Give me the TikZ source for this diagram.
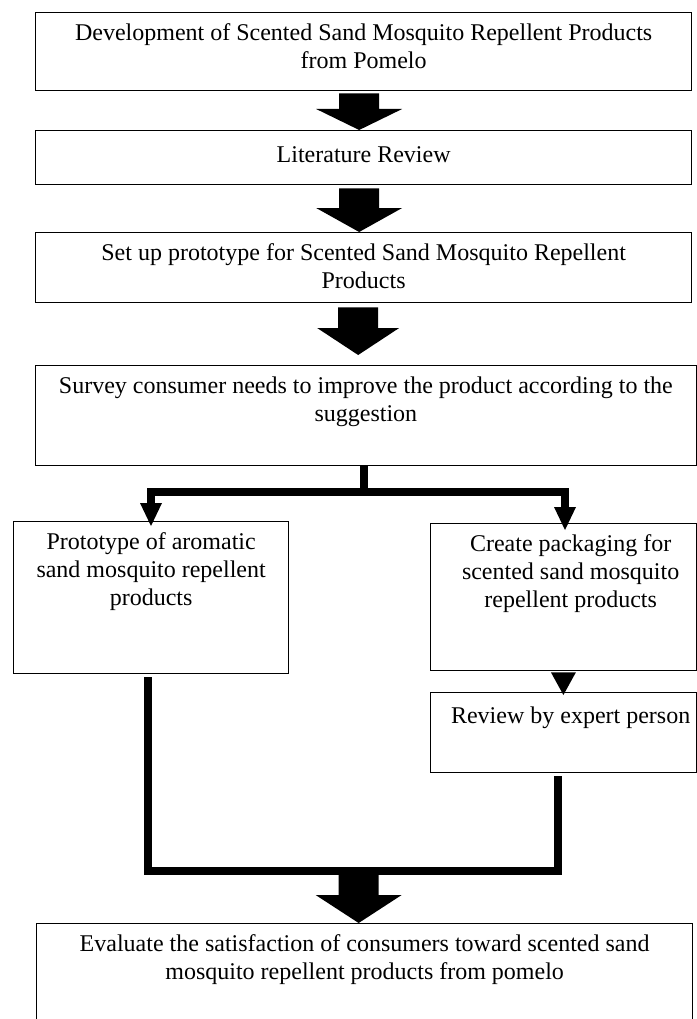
\documentclass[tikz,border=0pt]{standalone}
\usepackage{fontspec}
\setmainfont{Liberation Serif}
\usetikzlibrary{calc,arrows.meta}
\newcommand\bigarrow[4]{%
  \fill[blk] let \p1=#1, \p2=#2 in
    (\x2-20pt,\y1) -- (\x2+20pt,\y1) -- (\x2+20pt,\y2+#3) -- (\x2+#4,\y2+#3)
    -- (\x2,\y2) -- (\x2-#4,\y2+#3) -- (\x2-20pt,\y2+#3) -- cycle;}
\begin{document}
\begin{tikzpicture}[x=1pt,y=-1pt,
  box/.style={draw, line width=1.3pt, inner sep=0pt, anchor=north west},
  txt/.style={font=\fontsize{24}{27.6}\selectfont, align=center, inner sep=0pt, anchor=north,
              execute at begin node={\strut}},
  conn/.style={line width=8pt, line join=miter},
  tip/.style={-{Triangle[width=22pt,length=23pt,line width=0pt]}},
  blk/.style={fill=black}]
\fill[white] (0,0) rectangle (696,1019);
\useasboundingbox (0,0) rectangle (696,1019);
% boxes
\node[box, minimum width=656pt, minimum height=78pt]  (b1) at (35,12) {};
\node[box, minimum width=656pt, minimum height=54pt]  (b2) at (35,130) {};
\node[box, minimum width=656pt, minimum height=70pt]  (b3) at (35,232) {};
\node[box, minimum width=660.5pt, minimum height=100pt] (b4) at (35,365) {};
\node[box, minimum width=275pt, minimum height=152pt] (b5) at (13,521) {};
\node[box, minimum width=265.5pt, minimum height=147pt] (b6) at (430,523) {};
\node[box, minimum width=265.5pt, minimum height=80pt] (b7) at (430,692) {};
\node[box, minimum width=656pt, minimum height=115pt] (b8) at (36,923) {};
% texts (first baseline 31pt below box top)
\node[txt] (t1) at ($(b1.north)+(0,11.7)$) {Development of Scented Sand Mosquito Repellent Products\\from Pomelo};
\node[txt] (t2) at ($(b2.north)+(0,12.7)$) {Literature Review};
\node[txt] (t3) at ($(b3.north)+(0,11.7)$) {Set up prototype for Scented Sand Mosquito Repellent\\Products};
\node[txt] (t4) at ($(b4.north)+(0,11.7)$) {Survey consumer needs to improve the product according to the\\suggestion};
\node[txt] (t5) at ($(b5.north)+(0,11.7)$) {Prototype of aromatic\\sand mosquito repellent\\products};
\node[txt] (t6) at ($(b6.north)+(7.25,11.7)$) {Create packaging for\\scented sand mosquito\\repellent products};
\node[txt] (t7) at ($(b7.north)+(7.25,11.7)$) {Review by expert person};
\node[txt] (t8) at ($(b8.north)+(0,11.7)$) {Evaluate the satisfaction of consumers toward scented sand\\mosquito repellent products from pomelo};
% block arrows
\bigarrow{($(b1.south)+(-4.5,2)$)}{($(b2.north)+(-4.5,0)$)}{21pt}{43pt}
\bigarrow{($(b2.south)+(-4.5,3)$)}{($(b3.north)+(-4.5,0)$)}{24pt}{43pt}
\bigarrow{($(b3.south)+(-5.5,4)$)}{($(b4.north)+(-7.75,-10)$)}{27pt}{41pt}
% branch
\coordinate (j) at (363.5,492);
\coordinate (lx) at (151,0);
\coordinate (rx) at (565,0);
\draw[conn] (j |- b4.south) -- (j);
\draw[conn, tip] (j) -| ($(b5.north -| lx)+(0,5)$);
\draw[conn, tip] (j) -| ($(b6.north -| rx)+(0,7)$);
% packaging -> review
\fill[blk] ($(b6.south)+(-12.5,1)$) -- ($(b6.south)+(12.5,1)$) -- ($(b7.north)+(0,3)$) -- cycle;
% merge
\coordinate (bl) at (148,871);
\coordinate (br) at (558,871);
\draw[conn] ($(b5.south -| bl)+(0,3)$) -- (bl) -- (br) -- ($(b7.south -| br)+(0,3)$);
\bigarrow{($(bl -| b8.north)+(-6,4)$)}{($(b8.north)+(-6,0)$)}{28pt}{43pt}
\end{tikzpicture}
\end{document}
